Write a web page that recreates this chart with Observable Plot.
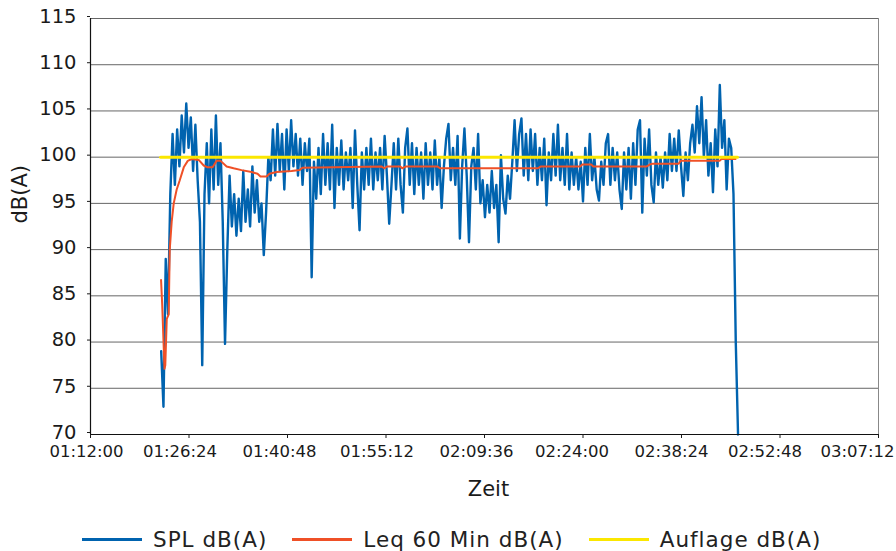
<!DOCTYPE html>
<html><head><meta charset="utf-8">
<script src="https://cdn.jsdelivr.net/npm/d3@7"></script>
<script src="https://cdn.jsdelivr.net/npm/@observablehq/plot@0.6"></script>
<style>
body{margin:0;background:#fff;font-family:"DejaVu Sans",sans-serif;}
#legend{display:flex;align-items:center;height:44px;padding-left:82px;font-size:21.5px;letter-spacing:1px;color:#222;}
.item{display:flex;align-items:center;margin-right:25px;}
.sw{width:60px;height:3px;margin-right:11px;}
</style></head><body><div id="chart"></div><div id="legend"></div>
<script>
// ---- data ----
const seriesNames = ["SPL dB(A)", "Leq 60 Min dB(A)", "Auflage dB(A)"];
const seriesColors = ["#0063af", "#ef5027", "#fbe700"];

const splStart = "01:22:20";
const splStepSeconds = 20;
const splValues = [
  79, 73, 89, 83, 96, 102.5, 97, 103, 99, 104.5,
  100.5, 105.8, 101, 104.3, 98.5, 103.5, 97.5, 93, 77.5, 96,
  101.5, 95, 103, 96.5, 104.5, 97, 101.5, 93, 79.8, 90,
  98, 92.5, 96, 91.5, 95.5, 92, 98.5, 93, 96.5, 92.5,
  99, 94, 97.5, 93, 95, 89.4, 94, 100, 97.5, 103,
  98, 103.6, 98.5, 102.5, 96.5, 103, 98.5, 104, 99, 102.5,
  98, 102, 97, 101.5, 98.5, 102, 87, 99.5, 95.5, 101,
  96, 102.5, 97, 101.5, 96.5, 103.5, 94.5, 101, 97, 101.8,
  96.5, 100.5, 97.5, 101, 94.5, 102.9, 97, 92.1, 100.5, 96.5,
  101, 97, 102, 96.5, 100.5, 97.5, 101, 96.5, 102.3, 98,
  92.8, 97, 101.5, 96.5, 102, 97, 94, 101, 103.1, 97,
  101.5, 96, 101, 97, 100.5, 95.5, 101.5, 97, 100.5, 96.5,
  101.8, 97, 100, 94.5, 99, 102, 103.6, 97.5, 101, 97,
  102.3, 91.2, 99, 103.1, 98, 90.8, 99, 101, 96.5, 102.5,
  95, 97.5, 93.5, 97, 94, 98.5, 94.5, 97, 90.8, 100.2,
  95.5, 93.9, 98, 95.5, 99.5, 104, 98.5, 102.5, 104.2, 98,
  102.5, 97.5, 103, 98.5, 102.5, 97, 101, 97.5, 102, 94.8,
  100.5, 97.5, 102.5, 98, 103.5, 97.5, 101, 97, 102.5, 96.5,
  100.5, 97, 100, 96.5, 99.5, 95.2, 101, 97, 102.5, 97.5,
  100, 96.5, 95.3, 99.5, 97, 101.5, 102.5, 97, 101, 97.5,
  100.5, 96.5, 94.4, 100.5, 96.5, 101, 95.5, 101.5, 97, 103,
  104, 94, 102, 98, 103, 97, 95.1, 100.5, 97, 100,
  96.7, 100.5, 97.5, 102.5, 98.5, 102, 98.5, 102.9, 99, 95.8,
  100.5, 97.5, 101.5, 103.5, 100.5, 105.5, 101.5, 106.5, 100, 104,
  98, 101.5, 96.2, 103, 99, 107.8, 101, 104, 96.5, 102,
  101, 96, 80, 70
];

const leqTimes = [
  "01:22:19","01:22:29","01:22:49","01:22:56","01:23:09","01:23:26","01:23:35","01:23:52","01:24:10","01:24:36",
  "01:25:03","01:25:38","01:26:13","01:26:48","01:27:49","01:28:33","01:29:08","01:29:51","01:30:26","01:31:01",
  "01:31:54","01:32:55","01:34:05","01:35:33","01:36:25","01:36:51","01:37:44","01:38:10","01:39:12","01:41:23",
  "01:42:33","01:42:59","01:54:31","01:54:57","01:55:23","01:57:17","01:57:34","01:58:09","02:02:41","02:03:07",
  "02:17:25","02:17:51","02:23:35","02:23:53","02:25:12","02:25:30","02:33:19","02:33:45","02:34:12","02:37:59",
  "02:38:17","02:43:58","02:44:15","02:46:18"
];
const leqValues = [
  86.7, 84, 77.1, 77.5, 82.5, 83, 90, 93, 95, 96.5,
  97.5, 98.9, 99.6, 99.8, 99.7, 99.1, 98.9, 98.9, 99.6, 99.6,
  99.0, 98.8, 98.6, 98.4, 98.2, 97.9, 97.9, 98.2, 98.4, 98.5,
  98.6, 98.85, 99.0, 98.8, 99.0, 99.0, 98.8, 99.0, 99.0, 98.8,
  98.8, 99.0, 99.0, 99.2, 99.2, 99.0, 99.0, 99.2, 99.3, 99.3,
  99.6, 99.6, 99.8, 99.8
];

const auflageTimes = ["01:22:15", "02:46:35"];
const auflageValues = [100, 100];

const xTickLabels = ["01:12:00","01:26:24","01:40:48","01:55:12","02:09:36","02:24:00","02:38:24","02:52:48","03:07:12"];
const yTicks = [70, 75, 80, 85, 90, 95, 100, 105, 110, 115];

// ---- helpers ----
const parseT = s => { const [h, m, sec] = s.split(":").map(Number); return new Date(Date.UTC(1970, 0, 1, h, m, sec)); };
const fmt = d3.utcFormat("%H:%M:%S");
const t0 = parseT(splStart).getTime();
const spl = splValues.map((v, i) => ({t: new Date(t0 + i * splStepSeconds * 1000), v}));
const leq = leqTimes.map((s, i) => ({t: parseT(s), v: leqValues[i]}));
const auf = auflageTimes.map((s, i) => ({t: parseT(s), v: auflageValues[i]}));
const xTicks = xTickLabels.map(parseT);

const labelShift = [-4, -9, -8, -9, -8, -11, -10, -15, -21];
const labelAxes = xTicks.map((t, i) => Plot.axisX({
  ticks: [t], tickSize: 0, tickPadding: 11, dx: labelShift[i], tickFormat: fmt,
  fontSize: 16.5, label: null
}));

const chart = Plot.plot({
  width: 896, height: 517,
  marginLeft: 90, marginRight: 18, marginTop: 18, marginBottom: 83,
  style: {fontFamily: "DejaVu Sans, sans-serif", background: "#fff", color: "#1a1a1a"},
  x: {type: "utc", domain: [xTicks[0], xTicks[xTicks.length - 1]]},
  y: {domain: [70, 115]},
  marks: [
    Plot.ruleY(yTicks.slice(1), {stroke: "#666", strokeWidth: 1}),
    Plot.ruleX([xTicks[xTicks.length - 1]], {stroke: "#888", strokeWidth: 1}),
    Plot.line(spl, {x: "t", y: "v", stroke: seriesColors[0], strokeWidth: 2.4, strokeLinejoin: "round"}),
    Plot.line(leq, {x: "t", y: "v", stroke: seriesColors[1], strokeWidth: 2}),
    Plot.line(auf, {x: "t", y: "v", stroke: seriesColors[2], strokeWidth: 3}),
    Plot.ruleX([xTicks[0]], {stroke: "#111", strokeWidth: 1.2}),
    Plot.ruleY([70], {stroke: "#111", strokeWidth: 1.2}),
    Plot.axisY({ticks: yTicks, tickSize: 3, tickPadding: 11, fontSize: 19.5, dy: -2, label: null, tickFormat: d => d}),
    Plot.axisX({ticks: xTicks, tickSize: 4, tickFormat: () => "", label: null}),
    ...labelAxes,
    Plot.text(["Zeit"], {text: d => d, frameAnchor: "bottom", dy: 61, dx: 4, fontSize: 21, fill: "#1a1a1a"}),
    Plot.text(["dB(A)"], {text: d => d, frameAnchor: "left", dx: -70, dy: -3, rotate: -90, fontSize: 21, fill: "#1a1a1a"})
  ]
});
document.getElementById("chart").appendChild(chart);

const legend = document.getElementById("legend");
seriesNames.forEach((name, i) => {
  const item = document.createElement("div");
  item.className = "item";
  const sw = document.createElement("div");
  sw.className = "sw";
  sw.style.background = seriesColors[i];
  const lab = document.createElement("span");
  lab.textContent = name;
  item.appendChild(sw); item.appendChild(lab);
  legend.appendChild(item);
});
</script></body></html>
